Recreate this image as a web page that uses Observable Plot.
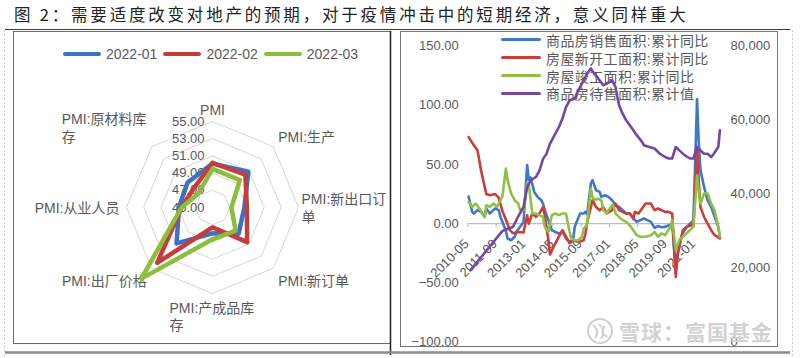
<!DOCTYPE html>
<html><head><meta charset="utf-8">
<script src="https://cdn.jsdelivr.net/npm/d3@7"></script>
<script src="https://cdn.jsdelivr.net/npm/@observablehq/plot@0.6"></script>
<style>
body{margin:0;background:#fff;}
#root{position:relative;width:800px;height:358px;overflow:hidden;font-family:"Liberation Sans","Noto Sans CJK SC",sans-serif;color:#595959;}
.abs{position:absolute;}
.title{position:absolute;left:14px;top:3px;font-family:"Noto Sans CJK SC",sans-serif;font-size:16.5px;letter-spacing:2.8px;line-height:22px;color:#222;white-space:nowrap;}
.lg{position:absolute;display:flex;align-items:center;font-size:14px;white-space:nowrap;}
.sw{display:inline-block;border-radius:2px;}
.wm{position:absolute;left:586px;top:316px;display:flex;align-items:center;color:#d2d2d2;font-family:"Noto Sans CJK SC",sans-serif;font-weight:bold;font-size:21px;letter-spacing:1px;}
</style></head><body><div id="root"></div>
<script>
// ---------------- data ----------------
const titleText = "图 2：需要适度改变对地产的预期，对于疫情冲击中的短期经济，意义同样重大";

// radar (left panel)
const radarAxes = ["PMI","PMI:生产","PMI:新出口订单","PMI:新订单","PMI:产成品库存","PMI:出厂价格","PMI:从业人员","PMI:原材料库存"];
const radarNames = ["2022-01","2022-02","2022-03"];
const pmi2022_01 = [50.1, 50.9, 48.7, 49.3, 48.0, 50.9, 48.9, 49.1];
const pmi2022_02 = [50.2, 50.4, 49.0, 50.7, 47.3, 54.1, 48.6, 48.1];
const pmi2022_03 = [49.5, 49.5, 47.2, 48.8, 48.7, 56.7, 48.6, 47.3];
const radarTicks = [45, 47, 49, 51, 53, 55];

// right panel
const rightNames = ["商品房销售面积:累计同比","房屋新开工面积:累计同比","房屋竣工面积:累计同比","商品房待售面积:累计值"];
const leftTicks = [-100, -50, 0, 50, 100, 150];
const rightTicks = [0, 20000, 40000, 60000, 80000];
const xTickMonths = ["2010-05","2011-09","2013-01","2014-05","2015-09","2017-01","2018-05","2019-09","2021-01"];

const salesYoY = [["2010-05",23],["2010-07",10],["2010-08",8.6],["2010-10",11.4],["2010-12",10],["2011-02",5.7],["2011-03",12.8],["2011-05",8.6],["2011-07",11.4],["2011-08",12.8],["2011-10",11.4],["2011-11",5.7],["2012-02",-6],["2012-03",-12.5],["2012-05",-14],["2012-07",-11],["2012-08",-7],["2012-10",-2.7],["2012-12",1.5],["2013-02",49.5],["2013-03",37],["2013-04",39],["2013-06",27],["2013-08",22.6],["2013-10",19.8],["2013-11",17],["2013-12",11.4],["2014-02",3],["2014-04",-5.5],["2014-06",-7],["2014-08",-8.3],["2014-10",-7],["2014-12",-12.5],["2015-02",-15.3],["2015-04",-14],["2015-05",-2.7],["2015-06",1.5],["2015-08",8.6],["2015-10",8.6],["2015-11",10],["2015-12",8],["2016-02",33.9],["2016-03",36.7],["2016-05",28.2],["2016-07",26.8],["2016-08",22.6],["2016-10",24],["2016-12",22.6],["2017-02",19.8],["2017-04",15.6],["2017-06",14.2],["2017-08",11.4],["2017-10",8.6],["2017-12",8.6],["2018-02",4.4],["2018-04",1.5],["2018-06",3],["2018-08",4.4],["2018-10",3],["2018-12",1.5],["2019-02",-3.6],["2019-04",-2],["2019-06",-3],["2019-08",-2.7],["2019-10",-1.5],["2019-12",-0.1],["2020-02",-39.9],["2020-03",-26],["2020-04",-19],["2020-05",-12],["2020-06",-8],["2020-08",-3.3],["2020-10",0],["2020-12",2.6],["2021-02",105],["2021-03",70],["2021-04",45],["2021-06",31],["2021-08",19.8],["2021-10",14.2],["2021-12",5.7],["2022-02",-2.7],["2022-03",-11]];

const newStartsYoY = [["2010-05",73],["2010-08",66],["2010-10",62],["2010-12",45],["2011-03",25],["2011-05",24],["2011-08",25],["2011-10",22],["2011-12",11],["2012-03",0],["2012-04",-5],["2012-06",-8],["2012-09",-7],["2012-12",-7.5],["2013-02",7],["2013-03",0],["2013-05",8.6],["2013-07",5.7],["2013-09",8.6],["2013-11",14],["2013-12",7],["2014-02",-14],["2014-03",-26],["2014-05",-19.6],["2014-08",-11],["2014-10",-5.5],["2014-12",-11],["2015-02",-16.7],["2015-04",-14],["2015-06",-15],["2015-08",-15],["2015-10",-14],["2015-11",-8.3],["2015-12",1.5],["2016-02",14],["2016-03",19.8],["2016-05",14],["2016-07",11.4],["2016-09",14],["2016-11",8.6],["2017-02",11.4],["2017-04",17],["2017-06",11.4],["2017-08",10],["2017-10",8.6],["2017-12",8.6],["2018-02",4.4],["2018-03",10],["2018-05",8.6],["2018-07",12.8],["2018-09",17],["2018-12",17],["2019-02",11.4],["2019-04",12.8],["2019-08",10],["2019-10",10],["2019-12",8.6],["2020-02",-44.9],["2020-03",-27],["2020-04",-19.6],["2020-06",-5.5],["2020-08",-2.7],["2020-11",-1.3],["2020-12",-1.2],["2021-02",63.4],["2021-03",36.7],["2021-04",14],["2021-06",5.7],["2021-08",0],["2021-10",-5.5],["2021-12",-9.7],["2022-02",-11.5],["2022-03",-12.5]];

const completionsYoY = [["2010-05",18.4],["2010-07",14.2],["2010-09",17],["2010-11",12.8],["2011-02",5.7],["2011-03",15.6],["2011-05",14.2],["2011-07",17],["2011-09",14.2],["2011-11",19.8],["2011-12",22.6],["2012-02",46.5],["2012-03",36.7],["2012-05",25.5],["2012-07",19.8],["2012-09",17],["2012-10",11.4],["2012-12",11.4],["2013-02",34],["2013-03",33],["2013-05",8.6],["2013-07",8.6],["2013-09",7.2],["2013-11",5.7],["2013-12",-2.7],["2014-02",-7],["2014-04",7.2],["2014-06",8.6],["2014-08",7.2],["2014-10",8.6],["2014-12",8.6],["2015-02",-7],["2015-03",-12.5],["2015-05",-14],["2015-07",-14],["2015-09",-11],["2015-10",-4],["2015-11",-2.7],["2015-12",0],["2016-02",29.7],["2016-03",22.6],["2016-04",19.8],["2016-06",21.2],["2016-08",19.8],["2016-09",11.4],["2016-11",8.6],["2016-12",11.4],["2017-02",15.6],["2017-03",14.2],["2017-04",8.6],["2017-05",7.2],["2017-06",5.7],["2017-08",3],["2017-10",1.5],["2017-12",-1.3],["2018-02",-5.5],["2018-04",-9.7],["2018-06",-11],["2018-09",-11],["2018-12",-9.7],["2019-02",-7],["2019-04",-11],["2019-06",-8.3],["2019-08",-9.7],["2019-11",-2.7],["2019-12",3],["2020-02",-22.3],["2020-04",-14],["2020-06",-11],["2020-08",-8.3],["2020-10",-5.5],["2020-12",-2.7],["2021-02",40.9],["2021-03",28.2],["2021-04",17],["2021-06",25.5],["2021-08",25.5],["2021-10",17],["2021-11",14.2],["2021-12",11],["2022-02",-3],["2022-03",-11]];

const inventoryArea = [["2010-06",19400],["2011-12",30000],["2012-03",30600],["2012-06",31100],["2012-09",34000],["2012-12",36500],["2013-02",41900],["2013-04",43700],["2013-07",44600],["2013-09",46400],["2013-11",49500],["2014-01",50900],["2014-03",53600],["2014-06",56300],["2014-08",58100],["2014-10",60400],["2014-12",63500],["2015-02",65300],["2015-05",65800],["2015-07",68000],["2015-10",70700],["2015-12",72500],["2016-02",73900],["2016-04",72500],["2016-07",70700],["2016-09",69400],["2016-11",69800],["2017-02",70700],["2017-04",68900],["2017-05",66200],["2017-06",64000],["2017-08",61700],["2017-10",59900],["2017-12",58600],["2018-02",57200],["2018-04",55900],["2018-07",54100],["2018-08",53200],["2018-11",52700],["2019-02",52300],["2019-05",50900],["2019-08",50000],["2019-10",49600],["2019-12",49600],["2020-02",52700],["2020-04",51800],["2020-07",50500],["2020-10",49600],["2020-12",49600],["2021-02",52700],["2021-04",51800],["2021-06",50900],["2021-08",50900],["2021-10",50000],["2021-11",50500],["2022-02",52700],["2022-03",57200]];

// ---------------- styles ----------------
const FONT = '"Liberation Sans","Noto Sans CJK SC",sans-serif';
const GRAY = "#595959";
const radarColors = ["#3c72c4","#c53d3b","#8cbd3f"];
const rightColors = ["#3f78c6","#cc3c39","#90c044","#7447a2"];

const root = document.getElementById("root");
function add(html){ const d=document.createElement("div"); d.innerHTML=html; const el=d.firstElementChild; root.appendChild(el); return el; }
function place(node,left,top){ const d=document.createElement("div"); d.className="abs"; d.style.left=left+"px"; d.style.top=top+"px"; d.appendChild(node); root.appendChild(d); return d; }

// ---------------- frame decoration ----------------
add(`<svg class="abs" style="left:0;top:0" width="800" height="358">
<line x1="5" y1="29.5" x2="790" y2="29.5" stroke="#3a3a3a" stroke-width="1"/>
<line x1="4.5" y1="30" x2="4.5" y2="358" stroke="#c8c8c8" stroke-dasharray="2,2"/>
<line x1="792.5" y1="30" x2="792.5" y2="358" stroke="#c8c8c8" stroke-dasharray="2,2"/>
<rect x="13.5" y="31.5" width="377" height="312" fill="none" stroke="#6a6a6a"/>
<line x1="390.5" y1="31" x2="390.5" y2="355" stroke="#222" stroke-width="1.5"/>
<rect x="400.5" y="31.5" width="377" height="315" fill="none" stroke="#777"/>
<line x1="5" y1="352.5" x2="790" y2="352.5" stroke="#8a8a8a" stroke-width="2.5"/>
</svg>`);

add(`<div class="title">${titleText}</div>`);

// ---------------- radar ----------------
const N = radarAxes.length, R0 = radarTicks[0], k = 8.6;
const W1 = 376, H1 = 311, cx = 198, cy = 175;
const ang = i => i * 2 * Math.PI / N;
const pt = (v, i) => ({x: (v - R0) * Math.sin(ang(i)), y: (v - R0) * Math.cos(ang(i))});
const ringData = radarTicks.filter(v => v > R0).flatMap(v => d3.range(N + 1).map(i => ({ring: v, ...pt(v, i % N)})));
const radarSeries = [pmi2022_01, pmi2022_02, pmi2022_03];
const labelLayout = [
  {ta:"middle", la:"bottom", dx:0},
  {ta:"start", la:"bottom", dx:0},
  {ta:"start", la:"middle", dx:-4, brk:8},
  {ta:"start", la:"top", dx:0},
  {ta:"start", la:"top", dx:-43, brk:8},
  {ta:"end", la:"top", dx:0},
  {ta:"end", la:"middle", dx:0},
  {ta:"start", la:"bottom", dx:-85, brk:8}
];
const labR = (radarTicks[radarTicks.length-1] - R0) + 7 / k;
const radar = Plot.plot({
  width: W1, height: H1, margin: 0,
  x: {domain: [-cx / k, (W1 - cx) / k], axis: null},
  y: {domain: [-(H1 - cy) / k, cy / k], axis: null},
  style: {background: "transparent", overflow: "visible", fontFamily: FONT, color: GRAY},
  marks: [
    Plot.line(ringData, {x: "x", y: "y", z: "ring", stroke: "#d6d6d6", strokeWidth: 1}),
    Plot.text(radarTicks, {x: 0, y: d => d - R0, text: d => d.toFixed(2), textAnchor: "end", dx: -8, fontSize: 13, fill: GRAY}),
    ...radarAxes.map((name, i) => {
      const L = labelLayout[i];
      const txt = L.brk ? name.slice(0, L.brk) + "\n" + name.slice(L.brk) : name;
      return Plot.text([txt], {x: () => labR * Math.sin(ang(i)), y: () => labR * Math.cos(ang(i)), text: d => d,
        textAnchor: L.ta, lineAnchor: L.la, dx: L.dx, fontSize: 14, lineHeight: 1.25, fill: GRAY});
    }),
    ...radarSeries.map((vals, j) => Plot.line(d3.range(N + 1).map(i => pt(vals[i % N], i)),
      {x: "x", y: "y", stroke: radarColors[j], strokeWidth: 4.5, strokeLinejoin: "round", strokeLinecap: "round"}))
  ]
});
place(radar, 14, 32);

// radar legend
add(`<div class="lg" style="left:63px;top:45px;height:18px">${radarNames.map((n,j)=>
  `<span class="sw" style="width:38px;height:4.5px;background:${radarColors[j]};margin-right:5px"></span><span style="margin-right:6px">${n}</span>`).join("")}</div>`);

// ---------------- right chart ----------------
const parseM = d3.utcParse("%Y-%m");
const mid = s => d3.utcDay.offset(parseM(s), 14);
const xDomain = [parseM("2010-05"), parseM("2022-04")];
const W2 = 377, H2 = 316;
const geom = {width: W2, height: H2, marginLeft: 67.3, marginRight: 56.6, marginTop: 14.4, marginBottom: 5.3,
  x: {type: "utc", domain: xDomain, axis: null},
  style: {background: "transparent", overflow: "visible", fontFamily: FONT, fontSize: "13px", color: GRAY}};

// legend underneath lines
add(`<div class="abs" style="left:501px;top:31px">${rightNames.map((n,j)=>
  `<div class="lg" style="position:relative;height:17.8px;letter-spacing:0.4px"><span class="sw" style="width:40px;height:3px;background:${rightColors[j]};margin-right:5px"></span><span>${n}</span></div>`).join("")}</div>`);

const lineOpts = (c) => ({x: d => mid(d[0]), y: d => d[1], stroke: c, strokeWidth: 2.6, strokeLinejoin: "round"});
const leftPlot = Plot.plot({
  ...geom,
  y: {domain: [leftTicks[0], leftTicks[leftTicks.length-1]], axis: null},
  marks: [
    Plot.ruleY([0], {stroke: "#bfbfbf", strokeWidth: 1.2}),
    Plot.ruleX(xTickMonths, {x: d => parseM(d), y1: 0, y2: -3.2, stroke: "#bfbfbf", strokeWidth: 1.2}),
    Plot.text(xTickMonths, {x: d => mid(d), y: 0, text: d => d, rotate: -45, textAnchor: "end", lineAnchor: "middle", dx: -2, dy: 18, fontSize: 13, fill: GRAY}),
    Plot.axisY({ticks: leftTicks, tickSize: 0, tickPadding: 9, tickFormat: d3.format(".2f"), label: null, fontSize: 13}),
    Plot.line(salesYoY, lineOpts(rightColors[0])),
    Plot.line(newStartsYoY, lineOpts(rightColors[1])),
    Plot.line(completionsYoY, lineOpts(rightColors[2]))
  ]
});
place(leftPlot, 400, 31);

const rightPlot = Plot.plot({
  ...geom,
  y: {domain: [rightTicks[0], rightTicks[rightTicks.length-1]], axis: null},
  marks: [
    Plot.axisY({anchor: "right", ticks: rightTicks, tickSize: 0, tickPadding: 9.5, tickFormat: d3.format(","), label: null, fontSize: 13}),
    Plot.line(inventoryArea, lineOpts(rightColors[3]))
  ]
});
place(rightPlot, 400, 31);

// watermark
add(`<div class="wm"><svg width="28" height="28" style="margin-right:5px"><circle cx="14" cy="14" r="12" fill="none" stroke="#d0d0d0" stroke-width="2"/><path d="M7 8 Q14 14 9 21 M13 7 Q20 13 15 22 M19 9 Q13 15 21 20" fill="none" stroke="#d0d0d0" stroke-width="2"/></svg><span>雪球：富国基金</span></div>`);
</script></body></html>
